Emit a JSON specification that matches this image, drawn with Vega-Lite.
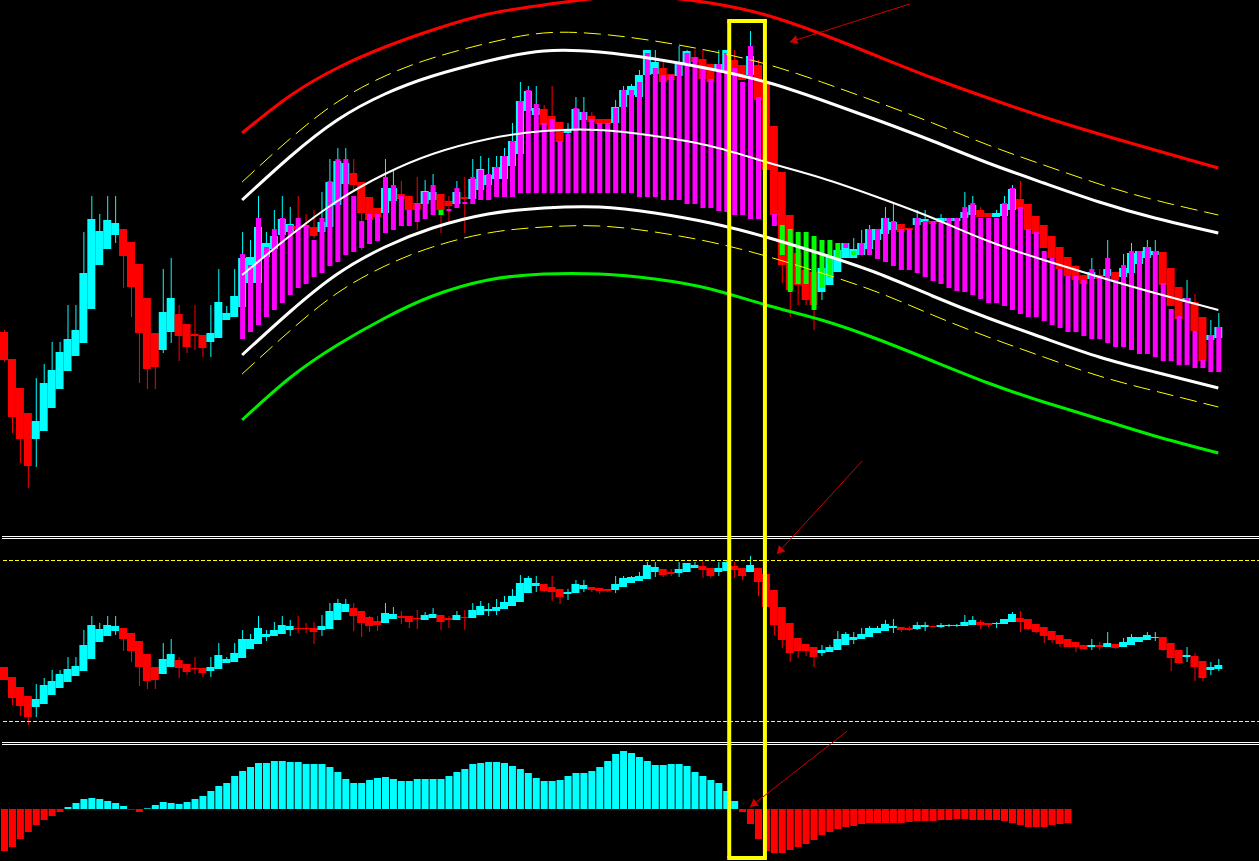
{
"$schema": "https://vega.github.io/schema/vega-lite/v6.json",
"background": "#000000",
"padding": 0,
"spacing": 0,
"bounds": "flush",
"config": {"view": {"stroke": null}, "axis": {"disable": true}, "legend": {"disable": true}},
"datasets": {
"main": [
{"n":-1,"o":1668,"h":1670,"l":1638,"c":1640},{"n":0,"o":1641,"h":1641,"l":1567,"c":1583},{"n":1,"o":1612,"h":1612,"l":1537,"c":1561},{"n":2,"o":1587,"h":1587,"l":1512,"c":1534},{"n":3,"o":1561,"h":1622,"l":1533,"c":1579},{"n":4,"o":1569,"h":1636,"l":1569,"c":1617},{"n":5,"o":1592,"h":1658,"l":1592,"c":1630},{"n":6,"o":1611,"h":1658,"l":1611,"c":1648},{"n":7,"o":1629,"h":1695,"l":1629,"c":1661},{"n":8,"o":1644,"h":1695,"l":1644,"c":1670},{"n":9,"o":1657,"h":1768,"l":1657,"c":1727},{"n":10,"o":1691,"h":1804,"l":1691,"c":1781},{"n":11,"o":1735,"h":1786,"l":1735,"c":1769},{"n":12,"o":1751,"h":1804,"l":1751,"c":1780},{"n":13,"o":1765,"h":1804,"l":1757,"c":1777},{"n":14,"o":1771,"h":1771,"l":1712,"c":1744},{"n":15,"o":1758,"h":1758,"l":1683,"c":1713},{"n":16,"o":1736,"h":1736,"l":1617,"c":1667},{"n":17,"o":1702,"h":1702,"l":1611,"c":1631},{"n":18,"o":1667,"h":1667,"l":1611,"c":1633},{"n":19,"o":1650,"h":1731,"l":1647,"c":1688},{"n":20,"o":1668,"h":1742,"l":1657,"c":1702},{"n":21,"o":1686,"h":1695,"l":1639,"c":1664},{"n":22,"o":1676,"h":1676,"l":1647,"c":1653},{"n":23,"o":1666,"h":1695,"l":1650,"c":1664},{"n":24,"o":1665,"h":1665,"l":1643,"c":1652},{"n":25,"o":1658,"h":1695,"l":1643,"c":1667},{"n":26,"o":1662,"h":1731,"l":1662,"c":1698},{"n":27,"o":1680,"h":1694,"l":1680,"c":1687},{"n":28,"o":1683,"h":1731,"l":1683,"c":1704},{"n":29,"o":1693,"h":1768,"l":1693,"c":1742},{"n":30,"o":1717,"h":1760,"l":1717,"c":1743},{"n":31,"o":1717,"h":1804,"l":1717,"c":1773},{"n":32,"o":1743,"h":1768,"l":1743,"c":1757},{"n":33,"o":1751,"h":1790,"l":1751,"c":1764},{"n":34,"o":1765,"h":1804,"l":1765,"c":1781},{"n":35,"o":1768,"h":1793,"l":1768,"c":1776},{"n":36,"o":1774,"h":1804,"l":1768,"c":1770},{"n":37,"o":1775,"h":1786,"l":1768,"c":1772},{"n":38,"o":1773,"h":1790,"l":1762,"c":1764},{"n":39,"o":1768,"h":1808,"l":1768,"c":1778},{"n":40,"o":1773,"h":1841,"l":1773,"c":1818},{"n":41,"o":1795,"h":1852,"l":1795,"c":1839},{"n":42,"o":1816,"h":1852,"l":1815,"c":1837},{"n":43,"o":1827,"h":1841,"l":1810,"c":1815},{"n":44,"o":1818,"h":1818,"l":1750,"c":1787},{"n":45,"o":1803,"h":1803,"l":1775,"c":1780},{"n":46,"o":1792,"h":1792,"l":1780,"c":1783},{"n":47,"o":1787,"h":1841,"l":1787,"c":1812},{"n":48,"o":1799,"h":1830,"l":1799,"c":1812},{"n":49,"o":1806,"h":1819,"l":1790,"c":1801},{"n":50,"o":1804,"h":1804,"l":1785,"c":1790},{"n":51,"o":1797,"h":1823,"l":1770,"c":1790},{"n":52,"o":1796,"h":1820,"l":1796,"c":1809},{"n":53,"o":1800,"h":1826,"l":1800,"c":1808},{"n":54,"o":1806,"h":1806,"l":1767,"c":1790},{"n":55,"o":1799,"h":1804,"l":1776,"c":1794},{"n":56,"o":1796,"h":1819,"l":1794,"c":1808},{"n":57,"o":1803,"h":1823,"l":1767,"c":1801},{"n":58,"o":1801,"h":1841,"l":1801,"c":1821},{"n":59,"o":1810,"h":1844,"l":1810,"c":1831},{"n":60,"o":1815,"h":1842,"l":1815,"c":1825},{"n":61,"o":1821,"h":1844,"l":1821,"c":1833},{"n":62,"o":1821,"h":1852,"l":1821,"c":1844},{"n":63,"o":1834,"h":1877,"l":1834,"c":1859},{"n":64,"o":1846,"h":1918,"l":1846,"c":1899},{"n":65,"o":1889,"h":1914,"l":1889,"c":1909},{"n":66,"o":1885,"h":1914,"l":1885,"c":1892},{"n":67,"o":1891,"h":1895,"l":1875,"c":1875},{"n":68,"o":1884,"h":1914,"l":1870,"c":1870},{"n":69,"o":1878,"h":1878,"l":1855,"c":1858},{"n":70,"o":1867,"h":1877,"l":1865,"c":1870},{"n":71,"o":1870,"h":1903,"l":1870,"c":1891},{"n":72,"o":1880,"h":1903,"l":1880,"c":1888},{"n":73,"o":1884,"h":1888,"l":1878,"c":1878},{"n":74,"o":1881,"h":1881,"l":1876,"c":1876},{"n":75,"o":1881,"h":1881,"l":1876,"c":1876},{"n":76,"o":1877,"h":1900,"l":1877,"c":1893},{"n":77,"o":1893,"h":1914,"l":1893,"c":1910},{"n":78,"o":1905,"h":1916,"l":1905,"c":1914},{"n":79,"o":1903,"h":1930,"l":1903,"c":1925},{"n":80,"o":1925,"h":1950,"l":1925,"c":1950},{"n":81,"o":1926,"h":1950,"l":1926,"c":1938},{"n":82,"o":1932,"h":1938,"l":1918,"c":1918},{"n":83,"o":1926,"h":1926,"l":1920,"c":1920},{"n":84,"o":1924,"h":1954,"l":1924,"c":1936},{"n":85,"o":1936,"h":1950,"l":1936,"c":1949},{"n":86,"o":1943,"h":1950,"l":1938,"c":1938},{"n":87,"o":1941,"h":1950,"l":1921,"c":1921},{"n":88,"o":1936,"h":1936,"l":1918,"c":1918},{"n":89,"o":1930,"h":1950,"l":1930,"c":1936},{"n":90,"o":1930,"h":1950,"l":1930,"c":1950},{"n":91,"o":1940,"h":1950,"l":1925,"c":1925},{"n":92,"o":1935,"h":1935,"l":1920,"c":1920},{"n":93,"o":1925,"h":1969,"l":1925,"c":1944},{"n":94,"o":1935,"h":1940,"l":1900,"c":1900},{"n":95,"o":1918,"h":1922,"l":1830,"c":1830},{"n":96,"o":1874,"h":1874,"l":1780,"c":1785},{"n":97,"o":1828,"h":1828,"l":1717,"c":1735},{"n":98,"o":1785,"h":1785,"l":1683,"c":1710},{"n":99,"o":1747,"h":1747,"l":1695,"c":1715},{"n":100,"o":1730,"h":1730,"l":1695,"c":1700},{"n":101,"o":1728,"h":1728,"l":1670,"c":1695},{"n":102,"o":1708,"h":1732,"l":1700,"c":1732},{"n":103,"o":1715,"h":1743,"l":1715,"c":1743},{"n":104,"o":1728,"h":1750,"l":1728,"c":1750},{"n":105,"o":1742,"h":1757,"l":1742,"c":1757},{"n":106,"o":1742,"h":1762,"l":1742,"c":1751},{"n":107,"o":1745,"h":1770,"l":1745,"c":1757},{"n":108,"o":1751,"h":1775,"l":1751,"c":1771},{"n":109,"o":1760,"h":1771,"l":1760,"c":1771},{"n":110,"o":1766,"h":1793,"l":1766,"c":1782},{"n":111,"o":1770,"h":1797,"l":1770,"c":1778},{"n":112,"o":1776,"h":1776,"l":1768,"c":1768},{"n":113,"o":1772,"h":1772,"l":1770,"c":1770},{"n":114,"o":1775,"h":1790,"l":1775,"c":1782},{"n":115,"o":1778,"h":1790,"l":1778,"c":1781},{"n":116,"o":1779,"h":1779,"l":1776,"c":1776},{"n":117,"o":1778,"h":1786,"l":1778,"c":1782},{"n":118,"o":1779,"h":1782,"l":1779,"c":1782},{"n":119,"o":1779,"h":1782,"l":1779,"c":1782},{"n":120,"o":1782,"h":1808,"l":1782,"c":1788},{"n":121,"o":1785,"h":1804,"l":1785,"c":1795},{"n":122,"o":1790,"h":1793,"l":1783,"c":1783},{"n":123,"o":1787,"h":1787,"l":1783,"c":1783},{"n":124,"o":1783,"h":1790,"l":1783,"c":1787},{"n":125,"o":1784,"h":1804,"l":1784,"c":1796},{"n":126,"o":1790,"h":1815,"l":1790,"c":1811},{"n":127,"o":1801,"h":1819,"l":1791,"c":1791},{"n":128,"o":1796,"h":1796,"l":1770,"c":1770},{"n":129,"o":1784,"h":1784,"l":1766,"c":1766},{"n":130,"o":1775,"h":1775,"l":1752,"c":1752},{"n":131,"o":1764,"h":1764,"l":1742,"c":1742},{"n":132,"o":1753,"h":1753,"l":1731,"c":1731},{"n":133,"o":1743,"h":1743,"l":1724,"c":1724},{"n":134,"o":1734,"h":1735,"l":1720,"c":1720},{"n":135,"o":1725,"h":1725,"l":1716,"c":1716},{"n":136,"o":1721,"h":1742,"l":1721,"c":1728},{"n":137,"o":1725,"h":1731,"l":1721,"c":1721},{"n":138,"o":1724,"h":1760,"l":1724,"c":1731},{"n":139,"o":1728,"h":1728,"l":1720,"c":1720},{"n":140,"o":1723,"h":1746,"l":1723,"c":1732},{"n":141,"o":1727,"h":1757,"l":1727,"c":1747},{"n":142,"o":1736,"h":1749,"l":1736,"c":1749},{"n":143,"o":1742,"h":1760,"l":1742,"c":1753},{"n":144,"o":1745,"h":1760,"l":1745,"c":1749},{"n":145,"o":1748,"h":1748,"l":1715,"c":1715},{"n":146,"o":1732,"h":1732,"l":1694,"c":1694},{"n":147,"o":1713,"h":1713,"l":1681,"c":1681},{"n":148,"o":1698,"h":1720,"l":1698,"c":1702},{"n":149,"o":1698,"h":1706,"l":1669,"c":1669},{"n":150,"o":1683,"h":1683,"l":1639,"c":1639},{"n":151,"o":1660,"h":1680,"l":1660,"c":1665},{"n":152,"o":1662,"h":1687,"l":1662,"c":1673}
],
"ind": [
{"n":29,"t":1746,"b":1661,"k":"m"},{"n":30,"t":1735,"b":1668,"k":"m"},{"n":31,"t":1782,"b":1675,"k":"m"},{"n":32,"t":1753,"b":1683,"k":"m"},{"n":33,"t":1771,"b":1690,"k":"m"},{"n":34,"t":1782,"b":1697,"k":"m"},{"n":35,"t":1775,"b":1705,"k":"m"},{"n":36,"t":1782,"b":1712,"k":"m"},{"n":37,"t":1775,"b":1716,"k":"m"},{"n":38,"t":1760,"b":1723,"k":"m"},{"n":39,"t":1782,"b":1727,"k":"m"},{"n":40,"t":1819,"b":1734,"k":"m"},{"n":41,"t":1841,"b":1738,"k":"m"},{"n":42,"t":1841,"b":1745,"k":"m"},{"n":43,"t":1804,"b":1748,"k":"m"},{"n":44,"t":1779,"b":1752,"k":"m"},{"n":45,"t":1786,"b":1756,"k":"m"},{"n":46,"t":1786,"b":1759,"k":"m"},{"n":47,"t":1823,"b":1767,"k":"m"},{"n":48,"t":1815,"b":1770,"k":"m"},{"n":49,"t":1804,"b":1774,"k":"m"},{"n":50,"t":1790,"b":1774,"k":"m"},{"n":51,"t":1797,"b":1778,"k":"m"},{"n":52,"t":1808,"b":1781,"k":"m"},{"n":53,"t":1815,"b":1785,"k":"m"},{"n":54,"t":1790,"b":1785,"k":"g"},{"n":55,"t":1791,"b":1789,"k":"m"},{"n":56,"t":1812,"b":1792,"k":"m"},{"n":57,"t":1798,"b":1796,"k":"m"},{"n":58,"t":1823,"b":1796,"k":"m"},{"n":59,"t":1830,"b":1800,"k":"m"},{"n":60,"t":1826,"b":1800,"k":"m"},{"n":61,"t":1833,"b":1803,"k":"m"},{"n":62,"t":1844,"b":1803,"k":"m"},{"n":63,"t":1859,"b":1803,"k":"m"},{"n":64,"t":1899,"b":1807,"k":"m"},{"n":65,"t":1910,"b":1807,"k":"m"},{"n":66,"t":1896,"b":1807,"k":"m"},{"n":67,"t":1877,"b":1807,"k":"m"},{"n":68,"t":1881,"b":1807,"k":"m"},{"n":69,"t":1859,"b":1807,"k":"m"},{"n":70,"t":1866,"b":1807,"k":"m"},{"n":71,"t":1892,"b":1807,"k":"m"},{"n":72,"t":1888,"b":1807,"k":"m"},{"n":73,"t":1881,"b":1807,"k":"m"},{"n":74,"t":1877,"b":1807,"k":"m"},{"n":75,"t":1877,"b":1807,"k":"m"},{"n":76,"t":1892,"b":1807,"k":"m"},{"n":77,"t":1910,"b":1807,"k":"m"},{"n":78,"t":1910,"b":1807,"k":"m"},{"n":79,"t":1918,"b":1803,"k":"m"},{"n":80,"t":1947,"b":1803,"k":"m"},{"n":81,"t":1932,"b":1803,"k":"m"},{"n":82,"t":1925,"b":1800,"k":"m"},{"n":83,"t":1925,"b":1800,"k":"m"},{"n":84,"t":1936,"b":1800,"k":"m"},{"n":85,"t":1947,"b":1796,"k":"m"},{"n":86,"t":1943,"b":1796,"k":"m"},{"n":87,"t":1932,"b":1792,"k":"m"},{"n":88,"t":1921,"b":1792,"k":"m"},{"n":89,"t":1936,"b":1789,"k":"m"},{"n":90,"t":1947,"b":1788,"k":"m"},{"n":91,"t":1932,"b":1785,"k":"m"},{"n":92,"t":1918,"b":1785,"k":"m"},{"n":93,"t":1954,"b":1781,"k":"m"},{"n":94,"t":1903,"b":1781,"k":"m"},{"n":96,"t":1786,"b":1774,"k":"m"},{"n":97,"t":1775,"b":1745,"k":"g"},{"n":98,"t":1771,"b":1708,"k":"g"},{"n":99,"t":1768,"b":1716,"k":"g"},{"n":100,"t":1768,"b":1716,"k":"g"},{"n":101,"t":1764,"b":1690,"k":"g"},{"n":102,"t":1760,"b":1712,"k":"g"},{"n":103,"t":1760,"b":1723,"k":"g"},{"n":104,"t":1757,"b":1741,"k":"g"},{"n":105,"t":1757,"b":1752,"k":"m"},{"n":106,"t":1749,"b":1745,"k":"g"},{"n":107,"t":1757,"b":1745,"k":"m"},{"n":108,"t":1771,"b":1745,"k":"m"},{"n":109,"t":1771,"b":1741,"k":"m"},{"n":110,"t":1782,"b":1738,"k":"m"},{"n":111,"t":1779,"b":1734,"k":"m"},{"n":112,"t":1771,"b":1730,"k":"m"},{"n":113,"t":1771,"b":1730,"k":"m"},{"n":114,"t":1782,"b":1727,"k":"m"},{"n":115,"t":1779,"b":1723,"k":"m"},{"n":116,"t":1779,"b":1719,"k":"m"},{"n":117,"t":1778,"b":1716,"k":"m"},{"n":118,"t":1782,"b":1712,"k":"m"},{"n":119,"t":1782,"b":1709,"k":"m"},{"n":120,"t":1793,"b":1708,"k":"m"},{"n":121,"t":1797,"b":1705,"k":"m"},{"n":122,"t":1782,"b":1701,"k":"m"},{"n":123,"t":1782,"b":1697,"k":"m"},{"n":124,"t":1782,"b":1697,"k":"m"},{"n":125,"t":1797,"b":1694,"k":"m"},{"n":126,"t":1812,"b":1690,"k":"m"},{"n":127,"t":1793,"b":1686,"k":"m"},{"n":128,"t":1771,"b":1683,"k":"m"},{"n":129,"t":1768,"b":1683,"k":"m"},{"n":130,"t":1749,"b":1679,"k":"m"},{"n":131,"t":1742,"b":1675,"k":"m"},{"n":132,"t":1731,"b":1672,"k":"m"},{"n":133,"t":1724,"b":1668,"k":"m"},{"n":134,"t":1724,"b":1668,"k":"m"},{"n":135,"t":1720,"b":1664,"k":"m"},{"n":136,"t":1731,"b":1661,"k":"m"},{"n":137,"t":1724,"b":1661,"k":"m"},{"n":138,"t":1742,"b":1657,"k":"m"},{"n":139,"t":1720,"b":1653,"k":"m"},{"n":140,"t":1735,"b":1653,"k":"m"},{"n":141,"t":1749,"b":1650,"k":"m"},{"n":142,"t":1749,"b":1646,"k":"m"},{"n":143,"t":1753,"b":1646,"k":"m"},{"n":144,"t":1749,"b":1643,"k":"m"},{"n":145,"t":1717,"b":1639,"k":"m"},{"n":146,"t":1691,"b":1639,"k":"m"},{"n":147,"t":1684,"b":1635,"k":"m"},{"n":148,"t":1702,"b":1635,"k":"m"},{"n":149,"t":1669,"b":1632,"k":"m"},{"n":150,"t":1640,"b":1632,"k":"m"},{"n":151,"t":1665,"b":1628,"k":"m"},{"n":152,"t":1673,"b":1628,"k":"m"}
],
"bands": [
{"n":29,"r":1867,"uw":1800,"yu":1818,"mw":1725,"lw":1645,"yl":1626,"g":1580},
{"n":35,"r":1904,"uw":1843,"yu":1861,"mw":1764,"lw":1688,"yl":1669,"g":1622},
{"n":41,"r":1932,"uw":1880,"yu":1898,"mw":1799,"lw":1726,"yl":1707,"g":1655},
{"n":47,"r":1953,"uw":1906,"yu":1924,"mw":1826,"lw":1753,"yl":1734,"g":1682},
{"n":53,"r":1970,"uw":1924,"yu":1942,"mw":1846,"lw":1772,"yl":1753,"g":1704},
{"n":60,"r":1986,"uw":1939,"yu":1957,"mw":1861,"lw":1786,"yl":1767,"g":1720},
{"n":67,"r":1995,"uw":1949,"yu":1967,"mw":1869,"lw":1792,"yl":1773,"g":1726},
{"n":74,"r":2002,"uw":1948,"yu":1966,"mw":1870,"lw":1793,"yl":1774,"g":1726},
{"n":81,"r":2003,"uw":1941,"yu":1959,"mw":1864,"lw":1787,"yl":1768,"g":1721},
{"n":88,"r":1997,"uw":1931,"yu":1949,"mw":1854,"lw":1777,"yl":1758,"g":1711},
{"n":95,"r":1985,"uw":1918,"yu":1936,"mw":1838,"lw":1763,"yl":1744,"g":1695},
{"n":102,"r":1966,"uw":1900,"yu":1918,"mw":1822,"lw":1746,"yl":1727,"g":1680},
{"n":109,"r":1944,"uw":1880,"yu":1898,"mw":1803,"lw":1727,"yl":1708,"g":1661},
{"n":116,"r":1922,"uw":1859,"yu":1877,"mw":1782,"lw":1704,"yl":1685,"g":1639},
{"n":123,"r":1902,"uw":1837,"yu":1855,"mw":1759,"lw":1682,"yl":1663,"g":1617},
{"n":130,"r":1883,"uw":1817,"yu":1835,"mw":1740,"lw":1662,"yl":1643,"g":1598},
{"n":137,"r":1866,"uw":1798,"yu":1816,"mw":1723,"lw":1643,"yl":1624,"g":1581},
{"n":144,"r":1850,"uw":1782,"yu":1800,"mw":1707,"lw":1628,"yl":1609,"g":1564},
{"n":152,"r":1832,"uw":1767,"yu":1785,"mw":1690,"lw":1612,"yl":1593,"g":1547}
],
"osc": [
{"n":-1,"o":-27,"h":-27,"l":-40,"c":-40},{"n":0,"o":-37,"h":-37,"l":-65,"c":-58},{"n":1,"o":-47,"h":-47,"l":-76,"c":-66},{"n":2,"o":-56,"h":-56,"l":-85,"c":-77},{"n":3,"o":-67,"h":-44,"l":-77,"c":-59},{"n":4,"o":-64,"h":-38,"l":-64,"c":-45},{"n":5,"o":-55,"h":-30,"l":-55,"c":-41},{"n":6,"o":-48,"h":-30,"l":-48,"c":-34},{"n":7,"o":-42,"h":-17,"l":-42,"c":-29},{"n":8,"o":-36,"h":-17,"l":-36,"c":-26},{"n":9,"o":-31,"h":10,"l":-31,"c":-5},{"n":10,"o":-19,"h":24,"l":-19,"c":15},{"n":11,"o":-2,"h":17,"l":-2,"c":11},{"n":12,"o":4,"h":24,"l":4,"c":15},{"n":13,"o":9,"h":24,"l":5,"c":14},{"n":14,"o":12,"h":12,"l":-11,"c":1},{"n":15,"o":7,"h":7,"l":-22,"c":-11},{"n":16,"o":-1,"h":-1,"l":-46,"c":-27},{"n":17,"o":-14,"h":-14,"l":-49,"c":-41},{"n":18,"o":-27,"h":-27,"l":-49,"c":-40},{"n":19,"o":-34,"h":-3,"l":-34,"c":-19},{"n":20,"o":-27,"h":1,"l":-27,"c":-14},{"n":21,"o":-20,"h":-17,"l":-38,"c":-28},{"n":22,"o":-24,"h":-24,"l":-35,"c":-32},{"n":23,"o":-28,"h":-17,"l":-34,"c":-29},{"n":24,"o":-28,"h":-28,"l":-37,"c":-33},{"n":25,"o":-31,"h":-17,"l":-37,"c":-27},{"n":26,"o":-29,"h":-3,"l":-29,"c":-15},{"n":27,"o":-23,"h":-17,"l":-23,"c":-19},{"n":28,"o":-22,"h":-3,"l":-22,"c":-13},{"n":29,"o":-18,"h":10,"l":-18,"c":1},{"n":30,"o":-9,"h":6,"l":-9,"c":1},{"n":31,"o":-4,"h":24,"l":-4,"c":12},{"n":32,"o":3,"h":10,"l":-1,"c":6},{"n":33,"o":4,"h":18,"l":4,"c":10},{"n":34,"o":6,"h":24,"l":6,"c":15},{"n":35,"o":10,"h":20,"l":4,"c":14},{"n":36,"o":12,"h":24,"l":7,"c":11},{"n":37,"o":12,"h":17,"l":7,"c":11},{"n":38,"o":12,"h":18,"l":-4,"c":8},{"n":39,"o":10,"h":25,"l":4,"c":14},{"n":40,"o":11,"h":37,"l":11,"c":29},{"n":41,"o":20,"h":41,"l":20,"c":37},{"n":42,"o":28,"h":41,"l":28,"c":36},{"n":43,"o":32,"h":37,"l":9,"c":24},{"n":44,"o":29,"h":29,"l":3,"c":17},{"n":45,"o":23,"h":24,"l":8,"c":14},{"n":46,"o":19,"h":24,"l":9,"c":15},{"n":47,"o":17,"h":37,"l":17,"c":27},{"n":48,"o":21,"h":33,"l":21,"c":26},{"n":49,"o":24,"h":29,"l":16,"c":22},{"n":50,"o":24,"h":24,"l":12,"c":18},{"n":51,"o":22,"h":30,"l":11,"c":21},{"n":52,"o":20,"h":28,"l":20,"c":25},{"n":53,"o":22,"h":32,"l":22,"c":26},{"n":54,"o":25,"h":25,"l":10,"c":18},{"n":55,"o":22,"h":24,"l":12,"c":20},{"n":56,"o":20,"h":29,"l":20,"c":25},{"n":57,"o":23,"h":30,"l":10,"c":22},{"n":58,"o":22,"h":37,"l":22,"c":30},{"n":59,"o":25,"h":39,"l":25,"c":34},{"n":60,"o":29,"h":37,"l":24,"c":31},{"n":61,"o":29,"h":41,"l":25,"c":33},{"n":62,"o":31,"h":44,"l":31,"c":38},{"n":63,"o":34,"h":51,"l":34,"c":44},{"n":64,"o":38,"h":65,"l":38,"c":57},{"n":65,"o":47,"h":64,"l":47,"c":62},{"n":66,"o":54,"h":64,"l":48,"c":57},{"n":67,"o":56,"h":56,"l":48,"c":49},{"n":68,"o":53,"h":64,"l":39,"c":48},{"n":69,"o":51,"h":51,"l":36,"c":43},{"n":70,"o":46,"h":51,"l":40,"c":48},{"n":71,"o":47,"h":60,"l":47,"c":56},{"n":72,"o":51,"h":60,"l":48,"c":55},{"n":73,"o":53,"h":53,"l":48,"c":50},{"n":74,"o":52,"h":52,"l":46,"c":49},{"n":75,"o":51,"h":51,"l":48,"c":49},{"n":76,"o":50,"h":64,"l":47,"c":56},{"n":77,"o":53,"h":64,"l":53,"c":62},{"n":78,"o":57,"h":64,"l":57,"c":63},{"n":79,"o":59,"h":68,"l":59,"c":64},{"n":80,"o":61,"h":78,"l":61,"c":75},{"n":81,"o":68,"h":78,"l":63,"c":73},{"n":82,"o":71,"h":71,"l":63,"c":65},{"n":83,"o":68,"h":71,"l":64,"c":66},{"n":84,"o":67,"h":78,"l":63,"c":71},{"n":85,"o":68,"h":77,"l":68,"c":77},{"n":86,"o":72,"h":78,"l":72,"c":75},{"n":87,"o":74,"h":78,"l":62,"c":70},{"n":88,"o":72,"h":72,"l":62,"c":64},{"n":89,"o":68,"h":78,"l":64,"c":72},{"n":90,"o":69,"h":80,"l":69,"c":78},{"n":91,"o":74,"h":78,"l":62,"c":70},{"n":92,"o":72,"h":72,"l":60,"c":64},{"n":93,"o":68,"h":84,"l":68,"c":75},{"n":94,"o":72,"h":72,"l":44,"c":58},{"n":95,"o":66,"h":66,"l":33,"c":33},{"n":96,"o":50,"h":50,"l":5,"c":15},{"n":97,"o":33,"h":33,"l":-8,"c":0},{"n":98,"o":17,"h":17,"l":-22,"c":-13},{"n":99,"o":2,"h":2,"l":-18,"c":-11},{"n":100,"o":-4,"h":-4,"l":-16,"c":-11},{"n":101,"o":-7,"h":-7,"l":-27,"c":-17},{"n":102,"o":-13,"h":-5,"l":-16,"c":-10},{"n":103,"o":-12,"h":-5,"l":-12,"c":-7},{"n":104,"o":-10,"h":9,"l":-10,"c":1},{"n":105,"o":-5,"h":8,"l":-5,"c":6},{"n":106,"o":0,"h":8,"l":-4,"c":3},{"n":107,"o":1,"h":12,"l":1,"c":6},{"n":108,"o":3,"h":14,"l":3,"c":12},{"n":109,"o":7,"h":14,"l":7,"c":12},{"n":110,"o":9,"h":20,"l":9,"c":16},{"n":111,"o":12,"h":21,"l":7,"c":14},{"n":112,"o":13,"h":13,"l":8,"c":10},{"n":113,"o":12,"h":14,"l":9,"c":10},{"n":114,"o":11,"h":18,"l":10,"c":15},{"n":115,"o":13,"h":18,"l":9,"c":15},{"n":116,"o":14,"h":14,"l":13,"c":13},{"n":117,"o":13,"h":17,"l":12,"c":15},{"n":118,"o":14,"h":16,"l":13,"c":15},{"n":119,"o":14,"h":16,"l":13,"c":15},{"n":120,"o":14,"h":25,"l":14,"c":18},{"n":121,"o":15,"h":24,"l":15,"c":20},{"n":122,"o":18,"h":20,"l":11,"c":15},{"n":123,"o":17,"h":17,"l":13,"c":15},{"n":124,"o":16,"h":18,"l":12,"c":17},{"n":125,"o":16,"h":21,"l":16,"c":21},{"n":126,"o":18,"h":28,"l":18,"c":26},{"n":127,"o":22,"h":29,"l":8,"c":18},{"n":128,"o":21,"h":21,"l":10,"c":11},{"n":129,"o":16,"h":16,"l":7,"c":8},{"n":130,"o":13,"h":13,"l":-3,"c":4},{"n":131,"o":9,"h":9,"l":-3,"c":0},{"n":132,"o":5,"h":5,"l":-7,"c":-4},{"n":133,"o":1,"h":1,"l":-7,"c":-7},{"n":134,"o":-2,"h":-2,"l":-12,"c":-7},{"n":135,"o":-5,"h":-5,"l":-10,"c":-9},{"n":136,"o":-7,"h":1,"l":-10,"c":-5},{"n":137,"o":-5,"h":-2,"l":-10,"c":-7},{"n":138,"o":-7,"h":8,"l":-7,"c":-3},{"n":139,"o":-4,"h":-4,"l":-9,"c":-8},{"n":140,"o":-7,"h":2,"l":-7,"c":-2},{"n":141,"o":-5,"h":6,"l":-5,"c":3},{"n":142,"o":-2,"h":3,"l":-2,"c":3},{"n":143,"o":0,"h":8,"l":0,"c":5},{"n":144,"o":2,"h":8,"l":-1,"c":3},{"n":145,"o":3,"h":3,"l":-11,"c":-10},{"n":146,"o":-3,"h":-3,"l":-31,"c":-18},{"n":147,"o":-10,"h":-10,"l":-24,"c":-23},{"n":148,"o":-17,"h":-7,"l":-22,"c":-15},{"n":149,"o":-16,"h":-13,"l":-41,"c":-27},{"n":150,"o":-21,"h":-21,"l":-41,"c":-38},{"n":151,"o":-30,"h":-22,"l":-35,"c":-27},{"n":152,"o":-29,"h":-19,"l":-31,"c":-25}
],
"hist": [
{"n":-1,"h":-42},{"n":0,"h":-38},{"n":1,"h":-30},{"n":2,"h":-23},{"n":3,"h":-16},{"n":4,"h":-11},{"n":5,"h":-7},{"n":6,"h":-3},{"n":7,"h":2},{"n":8,"h":6},{"n":9,"h":10},{"n":10,"h":11},{"n":11,"h":10},{"n":12,"h":8},{"n":13,"h":6},{"n":14,"h":3},{"n":15,"h":-0.7},{"n":16,"h":-3},{"n":17,"h":0.7},{"n":18,"h":4},{"n":19,"h":7},{"n":20,"h":6},{"n":21,"h":5},{"n":22,"h":7},{"n":23,"h":10},{"n":24,"h":13},{"n":25,"h":18},{"n":26,"h":23},{"n":27,"h":26},{"n":28,"h":33},{"n":29,"h":38},{"n":30,"h":42},{"n":31,"h":46},{"n":32,"h":46},{"n":33,"h":48},{"n":34,"h":48},{"n":35,"h":47},{"n":36,"h":47},{"n":37,"h":45},{"n":38,"h":45},{"n":39,"h":45},{"n":40,"h":42},{"n":41,"h":37},{"n":42,"h":30},{"n":43,"h":26},{"n":44,"h":26},{"n":45,"h":29},{"n":46,"h":31},{"n":47,"h":32},{"n":48,"h":30},{"n":49,"h":28},{"n":50,"h":28},{"n":51,"h":30},{"n":52,"h":30},{"n":53,"h":30},{"n":54,"h":30},{"n":55,"h":33},{"n":56,"h":37},{"n":57,"h":40},{"n":58,"h":45},{"n":59,"h":46},{"n":60,"h":47},{"n":61,"h":47},{"n":62,"h":46},{"n":63,"h":43},{"n":64,"h":40},{"n":65,"h":36},{"n":66,"h":31},{"n":67,"h":28},{"n":68,"h":28},{"n":69,"h":29},{"n":70,"h":33},{"n":71,"h":36},{"n":72,"h":36},{"n":73,"h":38},{"n":74,"h":42},{"n":75,"h":48},{"n":76,"h":55},{"n":77,"h":58},{"n":78,"h":56},{"n":79,"h":52},{"n":80,"h":48},{"n":81,"h":44},{"n":82,"h":44},{"n":83,"h":45},{"n":84,"h":45},{"n":85,"h":43},{"n":86,"h":37},{"n":87,"h":33},{"n":88,"h":29},{"n":89,"h":26},{"n":90,"h":18},{"n":91,"h":8},{"n":92,"h":-3},{"n":93,"h":-15},{"n":94,"h":-30},{"n":95,"h":-42},{"n":96,"h":-44},{"n":97,"h":-44},{"n":98,"h":-41},{"n":99,"h":-38},{"n":100,"h":-35},{"n":101,"h":-31},{"n":102,"h":-26},{"n":103,"h":-23},{"n":104,"h":-20},{"n":105,"h":-18},{"n":106,"h":-17},{"n":107,"h":-15},{"n":108,"h":-14},{"n":109,"h":-14},{"n":110,"h":-14},{"n":111,"h":-14},{"n":112,"h":-14},{"n":113,"h":-13},{"n":114,"h":-12},{"n":115,"h":-12},{"n":116,"h":-12},{"n":117,"h":-11},{"n":118,"h":-11},{"n":119,"h":-10},{"n":120,"h":-10},{"n":121,"h":-11},{"n":122,"h":-11},{"n":123,"h":-11},{"n":124,"h":-11},{"n":125,"h":-12},{"n":126,"h":-14},{"n":127,"h":-16},{"n":128,"h":-18},{"n":129,"h":-18},{"n":130,"h":-18},{"n":131,"h":-16},{"n":132,"h":-15},{"n":133,"h":-14}
]
},
"vconcat": [
{
"width": 1259, "height": 537,
"layer": [
{"data": {"name": "main"}, "mark": {"type": "rule", "strokeWidth": 1, "xOffset": 0.5},
 "encoding": {"x": {"field": "n", "type": "quantitative", "scale": {"domain": [-0.625, 156.75], "nice": false, "zero": false}},
  "y": {"field": "l", "type": "quantitative", "scale": {"domain": [1463, 2000], "nice": false, "zero": false}}, "y2": {"field": "h"},
  "color": {"condition": {"test": "datum.c >= datum.o", "value": "#00ffff"}, "value": "#ff0000"}}},
{"data": {"name": "main"}, "mark": {"type": "bar", "width": 8},
 "encoding": {"x": {"field": "n", "type": "quantitative", "scale": {"domain": [-0.625, 156.75], "nice": false, "zero": false}},
  "y": {"field": "o", "type": "quantitative", "scale": {"domain": [1463, 2000], "nice": false, "zero": false}}, "y2": {"field": "c"},
  "color": {"condition": {"test": "datum.c >= datum.o", "value": "#00ffff"}, "value": "#ff0000"}}},
{"data": {"name": "ind"}, "mark": {"type": "bar", "width": 5, "xOffset": 0.5},
 "encoding": {"x": {"field": "n", "type": "quantitative", "scale": {"domain": [-0.625, 156.75], "nice": false, "zero": false}},
  "y": {"field": "t", "type": "quantitative", "scale": {"domain": [1463, 2000], "nice": false, "zero": false}}, "y2": {"field": "b"},
  "color": {"condition": {"test": "datum.k == 'g'", "value": "#00ff00"}, "value": "#ff00ff"}}},
{"data": {"name": "bands"}, "mark": {"type": "line", "color": "#ff0000", "strokeWidth": 3, "interpolate": "natural", "clip": true},
 "encoding": {"x": {"field": "n", "type": "quantitative", "scale": {"domain": [-0.625, 156.75], "nice": false, "zero": false}},
  "y": {"field": "r", "type": "quantitative", "scale": {"domain": [1463, 2000], "nice": false, "zero": false}}}},
{"data": {"name": "bands"}, "mark": {"type": "line", "color": "#ffff00", "strokeWidth": 1, "strokeDash": [17, 7], "interpolate": "natural", "clip": true},
 "encoding": {"x": {"field": "n", "type": "quantitative", "scale": {"domain": [-0.625, 156.75], "nice": false, "zero": false}},
  "y": {"field": "yu", "type": "quantitative", "scale": {"domain": [1463, 2000], "nice": false, "zero": false}}}},
{"data": {"name": "bands"}, "mark": {"type": "line", "color": "#ffffff", "strokeWidth": 3, "interpolate": "natural", "clip": true},
 "encoding": {"x": {"field": "n", "type": "quantitative", "scale": {"domain": [-0.625, 156.75], "nice": false, "zero": false}},
  "y": {"field": "uw", "type": "quantitative", "scale": {"domain": [1463, 2000], "nice": false, "zero": false}}}},
{"data": {"name": "bands"}, "mark": {"type": "line", "color": "#ffffff", "strokeWidth": 2, "interpolate": "natural", "clip": true},
 "encoding": {"x": {"field": "n", "type": "quantitative", "scale": {"domain": [-0.625, 156.75], "nice": false, "zero": false}},
  "y": {"field": "mw", "type": "quantitative", "scale": {"domain": [1463, 2000], "nice": false, "zero": false}}}},
{"data": {"name": "bands"}, "mark": {"type": "line", "color": "#ffffff", "strokeWidth": 3, "interpolate": "natural", "clip": true},
 "encoding": {"x": {"field": "n", "type": "quantitative", "scale": {"domain": [-0.625, 156.75], "nice": false, "zero": false}},
  "y": {"field": "lw", "type": "quantitative", "scale": {"domain": [1463, 2000], "nice": false, "zero": false}}}},
{"data": {"name": "bands"}, "mark": {"type": "line", "color": "#ffff00", "strokeWidth": 1, "strokeDash": [17, 7], "interpolate": "natural", "clip": true},
 "encoding": {"x": {"field": "n", "type": "quantitative", "scale": {"domain": [-0.625, 156.75], "nice": false, "zero": false}},
  "y": {"field": "yl", "type": "quantitative", "scale": {"domain": [1463, 2000], "nice": false, "zero": false}}}},
{"data": {"name": "bands"}, "mark": {"type": "line", "color": "#00ee00", "strokeWidth": 3, "interpolate": "natural", "clip": true},
 "encoding": {"x": {"field": "n", "type": "quantitative", "scale": {"domain": [-0.625, 156.75], "nice": false, "zero": false}},
  "y": {"field": "g", "type": "quantitative", "scale": {"domain": [1463, 2000], "nice": false, "zero": false}}}},
{"data": {"values": [{}]}, "mark": {"type": "rule", "color": "#ffffff", "strokeWidth": 1, "yOffset": 0.5},
 "encoding": {"y": {"datum": 1464, "type": "quantitative", "scale": {"domain": [1463, 2000], "nice": false, "zero": false}}}},
{"data": {"values": [{"n": 90.375}, {"n": 94.875}]}, "mark": {"type": "rule", "color": "#ffff00", "strokeWidth": 4, "clip": true},
 "encoding": {"x": {"field": "n", "type": "quantitative", "scale": {"domain": [-0.625, 156.75], "nice": false, "zero": false}},
  "y": {"datum": 1979, "type": "quantitative", "scale": {"domain": [1463, 2000], "nice": false, "zero": false}}, "y2": {"datum": 1463}}},
{"data": {"values": [{"n": 90.375, "n2": 94.875}]}, "mark": {"type": "rule", "color": "#ffff00", "strokeWidth": 4, "strokeCap": "square"},
 "encoding": {"x": {"field": "n", "type": "quantitative", "scale": {"domain": [-0.625, 156.75], "nice": false, "zero": false}}, "x2": {"field": "n2"},
  "y": {"datum": 1979, "type": "quantitative", "scale": {"domain": [1463, 2000], "nice": false, "zero": false}}}},
{"data": {"values": [{"n": 113.125, "p": 1996, "n2": 98, "p2": 1958}, {"n": 107.125, "p": 1539, "n2": 98.34, "p2": 1463}]}, "mark": {"type": "rule", "color": "#d00000", "strokeWidth": 1, "clip": true},
 "encoding": {"x": {"field": "n", "type": "quantitative", "scale": {"domain": [-0.625, 156.75], "nice": false, "zero": false}}, "x2": {"field": "n2"},
  "y": {"field": "p", "type": "quantitative", "scale": {"domain": [1463, 2000], "nice": false, "zero": false}}, "y2": {"field": "p2"}}},
{"data": {"values": [{"n": 98.475, "p": 1959.2}]}, "mark": {"type": "point", "shape": "triangle-up", "filled": true, "color": "#d00000", "opacity": 1, "size": 80, "angle": 252.6},
 "encoding": {"x": {"field": "n", "type": "quantitative", "scale": {"domain": [-0.625, 156.75], "nice": false, "zero": false}},
  "y": {"field": "p", "type": "quantitative", "scale": {"domain": [1463, 2000], "nice": false, "zero": false}}}}
]
},
{
"width": 1259, "height": 206,
"layer": [
{"data": {"name": "osc"}, "mark": {"type": "rule", "strokeWidth": 1, "xOffset": 0.5},
 "encoding": {"x": {"field": "n", "type": "quantitative", "scale": {"domain": [-0.625, 156.75], "nice": false, "zero": false}},
  "y": {"field": "l", "type": "quantitative", "scale": {"domain": [-103, 103], "nice": false, "zero": false}}, "y2": {"field": "h"},
  "color": {"condition": {"test": "datum.c >= datum.o", "value": "#00ffff"}, "value": "#ff0000"}}},
{"data": {"name": "osc"}, "mark": {"type": "bar", "width": 8},
 "encoding": {"x": {"field": "n", "type": "quantitative", "scale": {"domain": [-0.625, 156.75], "nice": false, "zero": false}},
  "y": {"field": "o", "type": "quantitative", "scale": {"domain": [-103, 103], "nice": false, "zero": false}}, "y2": {"field": "c"},
  "color": {"condition": {"test": "datum.c >= datum.o", "value": "#00ffff"}, "value": "#ff0000"}}},
{"data": {"values": [{"lv": 80}, {"lv": -81}]}, "mark": {"type": "rule", "color": "#ffff00", "strokeWidth": 1, "strokeDash": [4, 2], "yOffset": 0.5},
 "encoding": {"y": {"field": "lv", "type": "quantitative", "scale": {"domain": [-103, 103], "nice": false, "zero": false}}}},
{"data": {"values": [{"lv": 102}, {"lv": -102}]}, "mark": {"type": "rule", "color": "#ffffff", "strokeWidth": 1, "yOffset": 0.5},
 "encoding": {"y": {"field": "lv", "type": "quantitative", "scale": {"domain": [-103, 103], "nice": false, "zero": false}}}},
{"data": {"values": [{"n": 90.375}, {"n": 94.875}]}, "mark": {"type": "rule", "color": "#ffff00", "strokeWidth": 4, "clip": true},
 "encoding": {"x": {"field": "n", "type": "quantitative", "scale": {"domain": [-0.625, 156.75], "nice": false, "zero": false}},
  "y": {"datum": 103, "type": "quantitative", "scale": {"domain": [-103, 103], "nice": false, "zero": false}}, "y2": {"datum": -103}}},
{"data": {"values": [{"n": 98.34, "p": 103, "n2": 96.375, "p2": 86}, {"n": 105.25, "p": -91, "n2": 103.31, "p2": -103}]}, "mark": {"type": "rule", "color": "#d00000", "strokeWidth": 1, "clip": true},
 "encoding": {"x": {"field": "n", "type": "quantitative", "scale": {"domain": [-0.625, 156.75], "nice": false, "zero": false}}, "x2": {"field": "n2"},
  "y": {"field": "p", "type": "quantitative", "scale": {"domain": [-103, 103], "nice": false, "zero": false}}, "y2": {"field": "p2"}}},
{"data": {"values": [{"n": 96.71, "p": 88.9}]}, "mark": {"type": "point", "shape": "triangle-up", "filled": true, "color": "#d00000", "opacity": 1, "size": 80, "angle": 222.8},
 "encoding": {"x": {"field": "n", "type": "quantitative", "scale": {"domain": [-0.625, 156.75], "nice": false, "zero": false}},
  "y": {"field": "p", "type": "quantitative", "scale": {"domain": [-103, 103], "nice": false, "zero": false}}}}
]
},
{
"width": 1259, "height": 118,
"layer": [
{"data": {"name": "hist"}, "mark": {"type": "bar", "width": 7, "xOffset": 0.5},
 "encoding": {"x": {"field": "n", "type": "quantitative", "scale": {"domain": [-0.625, 156.75], "nice": false, "zero": false}},
  "y": {"field": "h", "type": "quantitative", "scale": {"domain": [-52, 66], "nice": false, "zero": false}}, "y2": {"datum": 0},
  "color": {"condition": {"test": "datum.h >= 0", "value": "#00ffff"}, "value": "#ff0000"}}},
{"data": {"values": [{"lv": 65}]}, "mark": {"type": "rule", "color": "#ffffff", "strokeWidth": 1, "yOffset": 0.5},
 "encoding": {"y": {"field": "lv", "type": "quantitative", "scale": {"domain": [-52, 66], "nice": false, "zero": false}}}},
{"data": {"values": [{"n": 90.375}, {"n": 94.875}]}, "mark": {"type": "rule", "color": "#ffff00", "strokeWidth": 4, "clip": true},
 "encoding": {"x": {"field": "n", "type": "quantitative", "scale": {"domain": [-0.625, 156.75], "nice": false, "zero": false}},
  "y": {"datum": 66, "type": "quantitative", "scale": {"domain": [-52, 66], "nice": false, "zero": false}}, "y2": {"datum": -49}}},
{"data": {"values": [{"n": 90.375, "n2": 94.875}]}, "mark": {"type": "rule", "color": "#ffff00", "strokeWidth": 4, "strokeCap": "square"},
 "encoding": {"x": {"field": "n", "type": "quantitative", "scale": {"domain": [-0.625, 156.75], "nice": false, "zero": false}}, "x2": {"field": "n2"},
  "y": {"datum": -49, "type": "quantitative", "scale": {"domain": [-52, 66], "nice": false, "zero": false}}}},
{"data": {"values": [{"n": 103.31, "p": 66, "n2": 93, "p2": 2}]}, "mark": {"type": "rule", "color": "#d00000", "strokeWidth": 1, "clip": true},
 "encoding": {"x": {"field": "n", "type": "quantitative", "scale": {"domain": [-0.625, 156.75], "nice": false, "zero": false}}, "x2": {"field": "n2"},
  "y": {"field": "p", "type": "quantitative", "scale": {"domain": [-52, 66], "nice": false, "zero": false}}, "y2": {"field": "p2"}}},
{"data": {"values": [{"n": 93.4, "p": 4.5}]}, "mark": {"type": "point", "shape": "triangle-up", "filled": true, "color": "#d00000", "opacity": 1, "size": 80, "angle": 232.2},
 "encoding": {"x": {"field": "n", "type": "quantitative", "scale": {"domain": [-0.625, 156.75], "nice": false, "zero": false}},
  "y": {"field": "p", "type": "quantitative", "scale": {"domain": [-52, 66], "nice": false, "zero": false}}}}
]
}
]
}
